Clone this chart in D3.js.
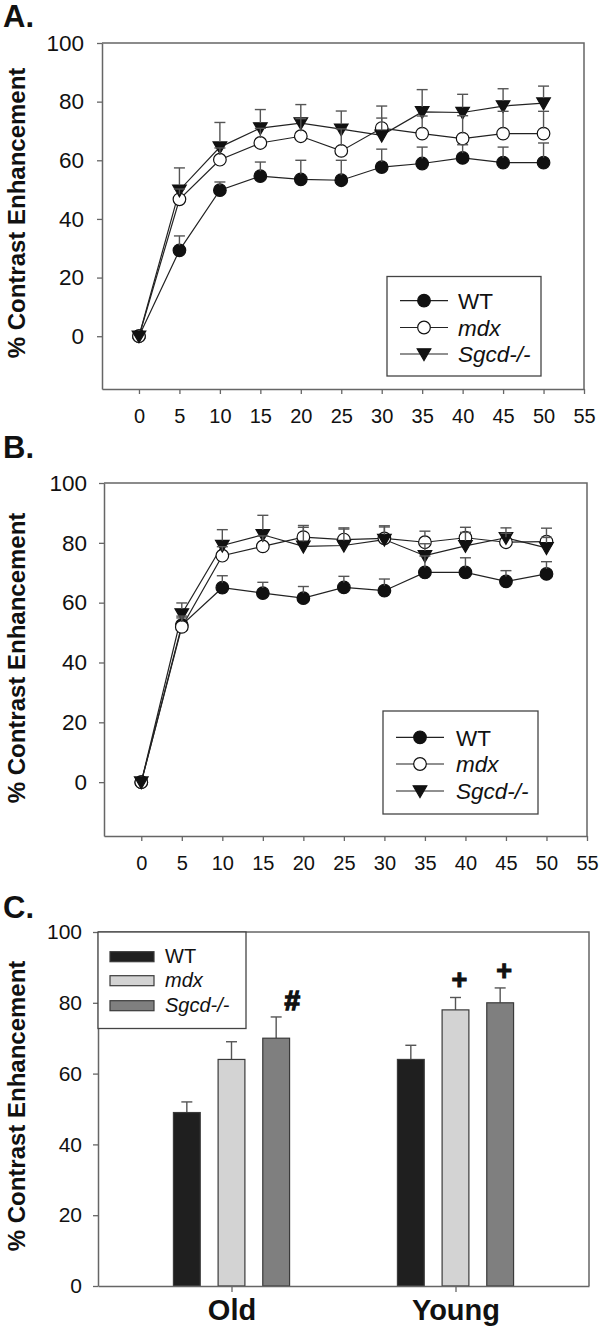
<!DOCTYPE html>
<html>
<head>
<meta charset="utf-8">
<script src="https://cdn.jsdelivr.net/npm/d3@7"></script>
<style>
  html, body { margin: 0; padding: 0; background: #fff; }
  svg { display: block; }
</style>
</head>
<body>
<svg id="chart" width="600" height="1328"></svg>
<script>
// ---------------- DATA ----------------
const timePoints = [0, 5, 10, 15, 20, 25, 30, 35, 40, 45, 50];
const timeTicks = [0, 5, 10, 15, 20, 25, 30, 35, 40, 45, 50, 55];
const yTicks = [0, 20, 40, 60, 80, 100];
const seriesNames = ["WT", "mdx", "Sgcd-/-"];

// Panel A
const aWT      = [0, 29.3, 49.8, 54.6, 53.5, 53.2, 57.7, 58.9, 60.8, 59.2, 59.2];
const aWTErr   = [0, 4.9, 2.8, 4.8, 6.5, 6.8, 6.1, 5.6, 4.5, 5.3, 6.7];
const aMdx     = [0, 46.7, 60.2, 65.9, 68.2, 63.2, 71.0, 69.1, 67.4, 69.1, 69.1];
const aMdxErr  = [0, 3.5, 4.0, 5.0, 6.0, 7.5, 7.5, 6.0, 7.8, 7.6, 7.6];
const aSgcd    = [0, 49.8, 64.5, 71.0, 72.7, 70.6, 68.5, 76.5, 76.3, 78.5, 79.5];
const aSgcdErr = [0, 7.6, 8.4, 6.3, 6.3, 6.2, 5.9, 7.6, 6.2, 5.9, 5.8];

// Panel B
const bWT      = [0, 52.5, 65.0, 63.2, 61.5, 65.1, 64.0, 70.1, 70.1, 67.1, 69.6];
const bWTErr   = [0, 3.0, 4.0, 3.6, 3.9, 3.7, 3.9, 5.5, 4.9, 3.6, 4.1];
const bMdx     = [0, 51.9, 75.7, 78.8, 81.9, 81.1, 81.5, 80.2, 81.7, 80.2, 80.4];
const bMdxErr  = [0, 3.0, 3.0, 3.5, 3.9, 3.9, 4.2, 3.7, 3.5, 3.0, 4.5];
const bSgcd    = [0, 56.2, 79.1, 82.7, 78.8, 79.1, 81.1, 75.7, 79.0, 81.7, 78.3];
const bSgcdErr = [0, 3.7, 5.3, 6.5, 6.4, 5.5, 4.2, 4.0, 4.5, 3.3, 3.5];

// Panel C
const groups   = ["Old", "Young"];
const cWT      = [49, 64];
const cWTErr   = [3, 4];
const cMdx     = [64, 78];
const cMdxErr  = [5, 3.5];
const cSgcd    = [70, 80];
const cSgcdErr = [6, 4.2];
const cMarkGroup  = ["Old", "Young", "Young"];
const cMarkSeries = ["Sgcd-/-", "mdx", "Sgcd-/-"];
const cMarkText   = ["#", "+", "+"];

// ---------------- STYLE ----------------
const FONT = "'Liberation Sans', Arial, Helvetica, sans-serif";
const AXIS = "#666";
const INK = "#111";
const svg = d3.select("#chart");

function markerPath(kind) {
  if (kind === "tri") return "M-6.8,-5.2L6.8,-5.2L0,6.6Z";
  return d3.symbol().type(d3.symbolCircle).size(Math.PI * 6.3 * 6.3)();
}
const seriesStyle = {
  "WT":      { shape: "circle", fill: "#111" },
  "mdx":     { shape: "circle", fill: "#fff" },
  "Sgcd-/-": { shape: "tri",    fill: "#111" }
};

function styleAxis(g, fontSize) {
  g.select(".domain").attr("stroke", AXIS).attr("stroke-width", 1.5);
  g.selectAll(".tick line").attr("stroke", AXIS).attr("stroke-width", 1.3);
  g.selectAll(".tick text").attr("fill", INK).attr("font-size", fontSize).attr("font-family", FONT);
}

function drawLinePanel(cfg, series) {
  const x = d3.scaleLinear().domain(cfg.xDomain).range([cfg.left, cfg.right]);
  const y = d3.scaleLinear().domain([-18, 100]).range([cfg.bottom, cfg.top]);
  const g = svg.append("g");

  g.append("path")
    .attr("d", `M${cfg.left},${cfg.top}H${cfg.right}V${cfg.bottom}`)
    .attr("fill", "none").attr("stroke", AXIS).attr("stroke-width", 1.5);

  const ya = g.append("g").attr("transform", `translate(${cfg.left},0)`)
    .call(d3.axisLeft(y).tickValues(yTicks).tickSize(5).tickPadding(cfg.yPad).tickSizeOuter(0));
  styleAxis(ya, 22.5);
  const xa = g.append("g").attr("transform", `translate(0,${cfg.bottom})`)
    .call(d3.axisBottom(x).tickValues(timeTicks).tickSize(5).tickPadding(15).tickSizeOuter(0));
  styleAxis(xa, 20);

  g.append("text")
    .attr("transform", `translate(25,${cfg.titleY}) rotate(-90)`)
    .attr("text-anchor", "middle").attr("font-family", FONT).attr("font-weight", "bold")
    .attr("font-size", 24).attr("fill", INK).text("% Contrast Enhancement");
  g.append("text").attr("x", 3).attr("y", cfg.labelY)
    .attr("font-family", FONT).attr("font-weight", "bold").attr("font-size", 31)
    .attr("fill", INK).text(cfg.label);

  const line = d3.line().x((d, i) => x(timePoints[i])).y(d => y(d));
  series.forEach(s => {
    g.append("path").datum(s.values).attr("d", line)
      .attr("fill", "none").attr("stroke", "#222").attr("stroke-width", 1.2);
  });
  series.forEach(s => {
    const st = seriesStyle[s.name];
    g.append("g").selectAll("path").data(s.values).join("path")
      .attr("transform", (d, i) => `translate(${x(timePoints[i])},${y(d)})`)
      .attr("d", markerPath(st.shape))
      .attr("fill", st.fill).attr("stroke", "#111").attr("stroke-width", 1.2);
  });
  series.forEach(s => {
    const eg = g.append("g").attr("stroke", "#555").attr("stroke-width", 1.4);
    s.values.forEach((v, i) => {
      const e = s.err[i];
      if (!e) return;
      const cx = x(timePoints[i]);
      eg.append("line").attr("x1", cx).attr("x2", cx).attr("y1", y(v) - 5).attr("y2", y(v + e));
      eg.append("line").attr("x1", cx - 5.5).attr("x2", cx + 5.5).attr("y1", y(v + e)).attr("y2", y(v + e));
    });
  });

  const L = cfg.legend;
  g.append("rect").attr("x", L.x0).attr("y", L.y0).attr("width", L.x1 - L.x0).attr("height", L.y1 - L.y0)
    .attr("fill", "#fff").attr("stroke", "#444").attr("stroke-width", 1.3);
  seriesNames.forEach((name, i) => {
    const ry = L.rows[i];
    const st = seriesStyle[name];
    g.append("line").attr("x1", L.lx0).attr("x2", L.lx1).attr("y1", ry).attr("y2", ry)
      .attr("stroke", "#222").attr("stroke-width", 1.2);
    g.append("path").attr("transform", `translate(${(L.lx0 + L.lx1) / 2},${ry})`)
      .attr("d", markerPath(st.shape)).attr("fill", st.fill).attr("stroke", "#111").attr("stroke-width", 1.2);
    g.append("text").attr("x", L.tx).attr("y", ry).attr("dy", "0.37em")
      .attr("font-family", FONT).attr("font-size", 22.5).attr("fill", INK)
      .attr("font-style", name === "WT" ? "normal" : "italic").text(name);
  });
}

drawLinePanel({
  left: 102, right: 584, top: 43, bottom: 389, xDomain: [-4.57, 55], yPad: 13,
  titleY: 213, label: "A.", labelY: 27,
  legend: { x0: 387, x1: 541, y0: 276.5, y1: 376, rows: [300.7, 327.5, 354], lx0: 400, lx1: 448, tx: 458 }
}, [
  { name: "WT", values: aWT, err: aWTErr },
  { name: "mdx", values: aMdx, err: aMdxErr },
  { name: "Sgcd-/-", values: aSgcd, err: aSgcdErr }
]);

drawLinePanel({
  left: 104, right: 587, top: 483, bottom: 836, xDomain: [-4.6, 55], yPad: 12,
  titleY: 658, label: "B.", labelY: 458,
  legend: { x0: 383, x1: 538, y0: 711, y1: 814, rows: [737.3, 764, 791], lx0: 396, lx1: 444, tx: 456 }
}, [
  { name: "WT", values: bWT, err: bWTErr },
  { name: "mdx", values: bMdx, err: bMdxErr },
  { name: "Sgcd-/-", values: bSgcd, err: bSgcdErr }
]);

// ---------------- PANEL C ----------------
(function () {
  const left = 98, right = 589, top = 932, bottom = 1286;
  const x = d3.scalePoint().domain(groups).range([left, right]).padding(0.596);
  const inner = d3.scaleBand().domain(seriesNames).range([-67, 67]).paddingInner(0.4).paddingOuter(0.2);
  const y = d3.scaleLinear().domain([0, 100]).range([bottom, top]);
  const g = svg.append("g");
  const barColor = { "WT": "#1f1f1f", "mdx": "#d3d3d3", "Sgcd-/-": "#7f7f7f" };
  const vals = { "WT": cWT, "mdx": cMdx, "Sgcd-/-": cSgcd };
  const errs = { "WT": cWTErr, "mdx": cMdxErr, "Sgcd-/-": cSgcdErr };

  g.append("path").attr("d", `M${left},${top}H${right}V${bottom}`)
    .attr("fill", "none").attr("stroke", AXIS).attr("stroke-width", 1.5);

  groups.forEach((grp, gi) => {
    seriesNames.forEach(name => {
      const v = vals[name][gi], e = errs[name][gi];
      const bx = x(grp) + inner(name);
      const cx = bx + inner.bandwidth() / 2;
      g.append("line").attr("x1", cx).attr("x2", cx).attr("y1", y(v)).attr("y2", y(v + e))
        .attr("stroke", "#555").attr("stroke-width", 1.4);
      g.append("line").attr("x1", cx - 5.5).attr("x2", cx + 5.5).attr("y1", y(v + e)).attr("y2", y(v + e))
        .attr("stroke", "#555").attr("stroke-width", 1.4);
      g.append("rect").attr("x", bx).attr("y", y(v)).attr("width", inner.bandwidth())
        .attr("height", y(0) - y(v)).attr("fill", barColor[name])
        .attr("stroke", "#3a3a3a").attr("stroke-width", 1.2);
    });
  });

  cMarkText.forEach((t, i) => {
    const grp = cMarkGroup[i], name = cMarkSeries[i];
    const gi = groups.indexOf(grp);
    const cx = x(grp) + inner(name) + inner.bandwidth() / 2;
    const top = y(vals[name][gi] + errs[name][gi]);
    const isHash = t === "#";
    g.append("text")
      .attr("x", cx + (isHash ? 16 : 4))
      .attr("y", isHash ? top - 7 : top - 8)
      .attr("text-anchor", "middle").attr("font-family", FONT).attr("font-weight", "bold")
      .attr("font-size", isHash ? 28 : 27).attr("fill", INK)
      .attr("stroke", INK).attr("stroke-width", isHash ? 1.4 : 1.0).text(t);
  });

  const ya = g.append("g").attr("transform", `translate(${left},0)`)
    .call(d3.axisLeft(y).tickValues(yTicks).tickSize(5).tickPadding(11).tickSizeOuter(0));
  styleAxis(ya, 21);
  const xa = g.append("g").attr("transform", `translate(0,${bottom})`)
    .call(d3.axisBottom(x).tickSize(6).tickPadding(7).tickSizeOuter(0));
  styleAxis(xa, 29);
  xa.selectAll(".tick text").attr("font-weight", "bold");

  g.append("text")
    .attr("transform", `translate(25,1106) rotate(-90)`)
    .attr("text-anchor", "middle").attr("font-family", FONT).attr("font-weight", "bold")
    .attr("font-size", 24).attr("fill", INK).text("% Contrast Enhancement");
  g.append("text").attr("x", 3).attr("y", 918)
    .attr("font-family", FONT).attr("font-weight", "bold").attr("font-size", 31)
    .attr("fill", INK).text("C.");

  const lg = g.append("g");
  lg.append("rect").attr("x", left).attr("y", top).attr("width", 148).attr("height", 96.5)
    .attr("fill", "#fff").attr("stroke", "#444").attr("stroke-width", 1.3);
  const rows = [956.7, 980.7, 1005.7];
  seriesNames.forEach((name, i) => {
    lg.append("rect").attr("x", 110).attr("y", rows[i] - 5).attr("width", 44).attr("height", 10)
      .attr("fill", barColor[name]).attr("stroke", "#3a3a3a").attr("stroke-width", 1.2);
    lg.append("text").attr("x", 165).attr("y", rows[i] + 6)
      .attr("font-family", FONT).attr("font-size", 20).attr("fill", INK)
      .attr("font-style", name === "WT" ? "normal" : "italic").text(name);
  });
})();
</script>
</body>
</html>
